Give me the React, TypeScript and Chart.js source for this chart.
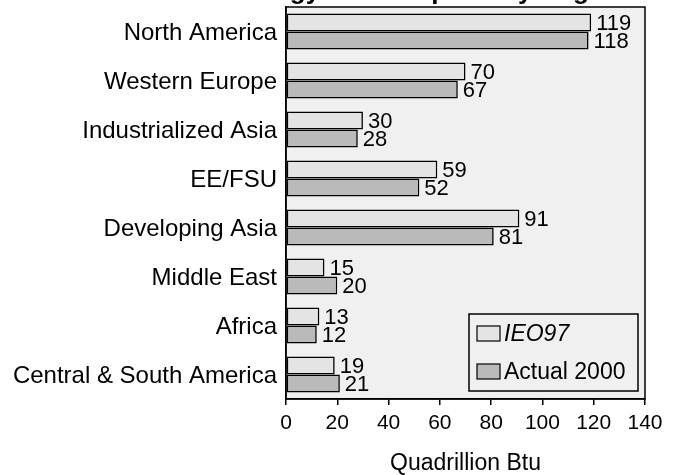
import React, { useEffect, useRef } from "react";
import { Chart, registerables } from "chart.js";

Chart.register(...registerables);

const categories = [
  "North America",
  "Western Europe",
  "Industrialized Asia",
  "EE/FSU",
  "Developing Asia",
  "Middle East",
  "Africa",
  "Central & South America",
];
const ieo97 = [119, 70, 30, 59, 91, 15, 13, 19];
const actual2000 = [118, 67, 28, 52, 81, 20, 12, 21];
const seriesNames = ["IEO97", "Actual 2000"];
const xTicks = [0, 20, 40, 60, 80, 100, 120, 140];
const titleText = "Energy Consumption by Region";
const axisTitle = "Quadrillion Btu";

const FONT = "Arial, 'Liberation Sans', Helvetica, sans-serif";
const BG = "#f0f0f0";
const C1 = "#e4e4e4";
const C2 = "#bababa";

const decorPlugin = {
  id: "decor",
  beforeDraw(chart: any) {
    const { ctx, chartArea: a } = chart;
    ctx.save();
    ctx.fillStyle = BG;
    ctx.fillRect(a.left, a.top, a.right - a.left, a.bottom - a.top);
    ctx.restore();
  },
  afterDatasetsDraw(chart: any) {
    const { ctx } = chart;
    ctx.save();
    ctx.font = `22px ${FONT}`;
    ctx.fillStyle = "#000";
    ctx.textAlign = "left";
    ctx.textBaseline = "middle";
    chart.data.datasets.forEach((ds: any, di: number) => {
      const meta = chart.getDatasetMeta(di);
      meta.data.forEach((bar: any, i: number) => {
        ctx.fillText(String(ds.data[i]), bar.x + 5, bar.y + 1);
      });
    });
    ctx.restore();
  },
  afterDraw(chart: any) {
    const { ctx, chartArea: a } = chart;
    ctx.save();
    ctx.strokeStyle = "#000";
    ctx.lineWidth = 1.5;
    ctx.strokeRect(a.left, a.top, a.right - a.left, a.bottom - a.top);

    // title (clipped at top as in reference)
    ctx.font = `bold 26px ${FONT}`;
    ctx.fillStyle = "#000";
    ctx.textAlign = "left";
    ctx.textBaseline = "alphabetic";
    ctx.fillText(titleText, 232, -1);

    // legend
    const lx = 469, ly = 314, lw = 169, lh = 77;
    ctx.fillStyle = BG;
    ctx.fillRect(lx, ly, lw, lh);
    ctx.lineWidth = 1.5;
    ctx.strokeRect(lx, ly, lw, lh);
    const items = [
      { y: 326, color: C1, text: seriesNames[0], italic: true },
      { y: 364, color: C2, text: seriesNames[1], italic: false },
    ];
    items.forEach((it) => {
      ctx.fillStyle = it.color;
      ctx.fillRect(477, it.y, 23, 15);
      ctx.lineWidth = 1.2;
      ctx.strokeStyle = "#000";
      ctx.strokeRect(477, it.y, 23, 15);
      ctx.fillStyle = "#000";
      ctx.font = `${it.italic ? "italic " : ""}23px ${FONT}`;
      ctx.textBaseline = "middle";
      ctx.fillText(it.text, 504, it.y + 8.5);
    });
    ctx.restore();
  },
};

export default function App() {
  const ref = useRef<HTMLCanvasElement | null>(null);
  useEffect(() => {
    if (!ref.current) return;
    const chart = new Chart(ref.current, {
      type: "bar",
      data: {
        labels: categories,
        datasets: [
          {
            label: seriesNames[0],
            data: ieo97,
            backgroundColor: C1,
            borderColor: "#000",
            borderWidth: 1.6,
            borderSkipped: false,
            categoryPercentage: 0.735,
            barPercentage: 1,
          },
          {
            label: seriesNames[1],
            data: actual2000,
            backgroundColor: C2,
            borderColor: "#000",
            borderWidth: 1.6,
            borderSkipped: false,
            categoryPercentage: 0.735,
            barPercentage: 1,
          },
        ],
      },
      options: {
        indexAxis: "y",
        responsive: false,
        animation: false,
        layout: { padding: { top: 7, right: 34, left: 0, bottom: 0 } },
        plugins: {
          legend: { display: false },
          title: { display: false },
          tooltip: { enabled: false },
        },
        scales: {
          x: {
            type: "linear",
            min: 0,
            max: 140,
            afterFit: (s: any) => {
              s.height = 76;
              s.paddingLeft = 0;
              s.paddingRight = 0;
            },
            afterBuildTicks: (s: any) => {
              s.ticks = xTicks.map((v) => ({ value: v }));
            },
            grid: {
              drawOnChartArea: false,
              drawTicks: true,
              tickLength: 6,
              color: "#000",
              lineWidth: 1.5,
            },
            border: { display: true, color: "#000", width: 1.5 },
            ticks: {
              color: "#000",
              font: { family: FONT, size: 21 },
              padding: 6,
              maxRotation: 0,
            },
            title: {
              display: true,
              text: axisTitle,
              color: "#000",
              font: { family: FONT, size: 23 },
              padding: { top: 0, bottom: -2 },
            },
          },
          y: {
            afterFit: (s: any) => {
              s.width = 286;
              s.paddingTop = 0;
              s.paddingBottom = 0;
            },
            grid: { display: false, drawTicks: false },
            border: { display: true, color: "#000", width: 1.5 },
            ticks: {
              color: "#000",
              font: { family: FONT, size: 24 },
              padding: 9,
              labelOffset: 2,
            },
          },
        },
      },
      plugins: [decorPlugin],
    } as any);
    return () => chart.destroy();
  }, []);
  return (
    <div style={{ position: "fixed", left: 0, top: 0, width: 679, height: 475, background: "#fff" }}>
      <canvas ref={ref} width={679} height={475} style={{ display: "block", width: 679, height: 475 }} />
    </div>
  );
}
